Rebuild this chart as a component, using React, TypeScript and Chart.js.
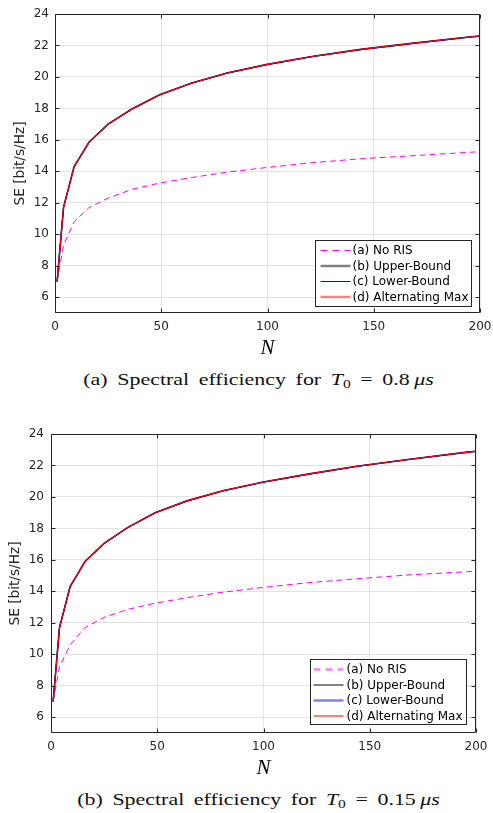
import React, { useEffect, useRef } from "react";
import { Chart, registerables } from "chart.js";

Chart.register(...registerables);

// ---------- data ----------
const N_VALUES = [1, 4, 9, 16, 25, 36, 49, 64, 81, 100, 121, 144, 169, 196, 200];
const X_TICKS = [0, 50, 100, 150, 200];
const Y_TICKS = [6, 8, 10, 12, 14, 16, 18, 20, 22, 24];
const LEGEND_LABELS = ["(a) No RIS", "(b) Upper-Bound", "(c) Lower-Bound", "(d) Alternating Max"];

// (a) T0 = 0.8 us
const A_NO_RIS = [7.0, 9.3, 10.8, 11.7, 12.3, 12.85, 13.25, 13.6, 13.95, 14.25, 14.55, 14.8, 15.0, 15.22, 15.25];
const A_UPPER = [7.0, 11.7, 14.3, 15.85, 17.0, 17.95, 18.85, 19.6, 20.25, 20.8, 21.3, 21.75, 22.15, 22.55, 22.6];
const A_LOWER = [7.0, 11.7, 14.3, 15.84, 16.99, 17.94, 18.84, 19.59, 20.24, 20.79, 21.29, 21.74, 22.14, 22.54, 22.59];
const A_ALT = [7.0, 11.7, 14.3, 15.85, 17.0, 17.95, 18.85, 19.6, 20.25, 20.8, 21.3, 21.75, 22.15, 22.55, 22.6];

// (b) T0 = 0.15 us
const B_NO_RIS = [7.0, 9.2, 10.6, 11.7, 12.35, 12.85, 13.25, 13.6, 13.95, 14.25, 14.55, 14.8, 15.05, 15.25, 15.3];
const B_UPPER = [7.0, 11.7, 14.3, 15.9, 17.05, 18.05, 19.0, 19.75, 20.4, 20.95, 21.45, 21.95, 22.4, 22.85, 22.9];
const B_LOWER = [7.0, 11.7, 14.3, 15.89, 17.04, 18.04, 18.99, 19.74, 20.39, 20.94, 21.44, 21.94, 22.39, 22.84, 22.89];
const B_ALT = [7.0, 11.7, 14.3, 15.9, 17.05, 18.05, 19.0, 19.75, 20.4, 20.95, 21.45, 21.95, 22.4, 22.85, 22.9];

const CANVAS_W = 493;
const CANVAS_H = 362;
const TICK_FONT = "DejaVu Sans";

const pts = (ys: number[]) => N_VALUES.map((n, i) => ({ x: n, y: ys[i] }));

// legend box + axes box plugins
const legendBoxPlugin = {
  id: "legendBox",
  afterDatasetsDraw(chart: any, _args: any, opts: any) {
    const { ctx, chartArea } = chart;
    const w = opts.width, h = opts.height;
    const x0 = Math.round(chartArea.right - opts.right - w) + 0.5;
    const y0 = Math.round(chartArea.bottom - opts.bottom - h) + 0.5;
    ctx.save();
    ctx.fillStyle = "#ffffff";
    ctx.fillRect(x0, y0, w, h);
    ctx.strokeStyle = "#262626";
    ctx.lineWidth = 1;
    ctx.strokeRect(x0, y0, w, h);
    ctx.font = `12px '${TICK_FONT}'`;
    ctx.textBaseline = "middle";
    ctx.textAlign = "left";
    chart.data.datasets.forEach((ds: any, i: number) => {
      const cy = y0 + opts.firstRow + i * opts.rowGap;
      ctx.save();
      ctx.strokeStyle = ds.legendColor || ds.borderColor;
      ctx.lineWidth = ds.legendWidth || ds.borderWidth;
      ctx.setLineDash(ds.legendDash || []);
      ctx.beginPath();
      ctx.moveTo(x0 + opts.lineStart, cy);
      ctx.lineTo(x0 + opts.lineEnd, cy);
      ctx.stroke();
      ctx.restore();
      ctx.fillStyle = "#000000";
      ctx.fillText(ds.label, x0 + opts.textStart, cy + 0.5);
    });
    ctx.restore();
  },
};

const axesBoxPlugin = {
  id: "axesBox",
  afterDraw(chart: any) {
    const { ctx, chartArea } = chart;
    const { left, right, top, bottom } = chartArea;
    const xs = chart.scales.x, ys = chart.scales.y;
    const L = Math.round(left) + 0.5, R = Math.round(right) - 0.5;
    const T = Math.round(top) + 0.5, B = Math.round(bottom) - 0.5;
    ctx.save();
    ctx.strokeStyle = "#262626";
    ctx.lineWidth = 1;
    ctx.beginPath();
    ctx.moveTo(L, T); ctx.lineTo(R, T); ctx.lineTo(R, B); ctx.lineTo(L, B); ctx.closePath();
    ctx.stroke();
    const tl = 4;
    ctx.beginPath();
    X_TICKS.forEach((v) => {
      const px = Math.round(xs.getPixelForValue(v)) + 0.5;
      ctx.moveTo(px, B); ctx.lineTo(px, B - tl);
      ctx.moveTo(px, T); ctx.lineTo(px, T + tl);
    });
    Y_TICKS.forEach((v) => {
      const py = Math.round(ys.getPixelForValue(v)) + 0.5;
      ctx.moveTo(L, py); ctx.lineTo(L + tl, py);
      ctx.moveTo(R, py); ctx.lineTo(R - tl, py);
    });
    ctx.stroke();
    ctx.restore();
  },
};

type Panel = {
  noRis: number[]; upper: number[]; lower: number[]; alt: number[];
  axisLeft: number; plotTop: number; plotBottom: number; plotRight: number;
  yTickPad: number; yTitlePad: number;
  legend: any; legendStyles: any[];
};

function makeConfig(p: Panel): any {
  const series = [p.noRis, p.upper, p.lower, p.alt];
  const lineStyles = [
    { borderColor: "#ff00ff", borderWidth: 1, borderDash: [6, 4], order: 3 },
    { borderColor: "#000000", borderWidth: 1.6, order: 2 },
    { borderColor: "#0000ff", borderWidth: 1, order: 1 },
    { borderColor: "#ff0000", borderWidth: 1.1, order: 0 },
  ];
  const datasets = series.map((s, i) => ({
    label: LEGEND_LABELS[i],
    data: pts(s),
    pointRadius: 0,
    tension: 0,
    fill: false,
    ...lineStyles[i],
    ...p.legendStyles[i],
  }));
  return {
    type: "line",
    data: { datasets },
    options: {
      animation: false,
      responsive: false,
      layout: { padding: { top: p.plotTop, right: CANVAS_W - p.plotRight, left: 0, bottom: 0 } },
      plugins: {
        legend: { display: false },
        tooltip: { enabled: false },
        legendBox: p.legend,
      },
      scales: {
        x: {
          type: "linear",
          min: 0,
          max: 200,
          afterBuildTicks: (s: any) => { s.ticks = X_TICKS.map((v) => ({ value: v })); },
          afterFit: (s: any) => {
            s.height = CANVAS_H - p.plotBottom;
            s.paddingLeft = 0;
            s.paddingRight = 0;
          },
          grid: { color: "#e3e3e3", drawTicks: false, lineWidth: 1 },
          border: { display: false },
          ticks: { color: "#262626", font: { family: TICK_FONT, size: 12 }, padding: 7, maxRotation: 0 },
          title: {
            display: true,
            text: "N",
            color: "#000000",
            font: { family: "Liberation Serif", size: 21, style: "italic" },
            padding: { top: 0, bottom: 1.4 },
          },
        },
        y: {
          type: "linear",
          min: 5,
          max: 24,
          afterBuildTicks: (s: any) => { s.ticks = Y_TICKS.map((v) => ({ value: v })); },
          afterFit: (s: any) => {
            s.width = p.axisLeft;
            s.paddingTop = 0;
            s.paddingBottom = 0;
          },
          grid: { color: "#e3e3e3", drawTicks: false, lineWidth: 1 },
          border: { display: false },
          ticks: { color: "#262626", font: { family: TICK_FONT, size: 12 }, padding: p.yTickPad },
          title: {
            display: true,
            text: "SE [bit/s/Hz]",
            color: "#262626",
            font: { family: TICK_FONT, size: 13.7 },
            padding: { top: p.yTitlePad, bottom: 0 },
          },
        },
      },
    },
    plugins: [legendBoxPlugin, axesBoxPlugin],
  };
}

const PANEL_A: Panel = {
  noRis: A_NO_RIS, upper: A_UPPER, lower: A_LOWER, alt: A_ALT,
  axisLeft: 55, plotTop: 14, plotBottom: 313, plotRight: 480,
  yTickPad: 6, yTitlePad: 12,
  legend: { width: 156, height: 66, right: 9, bottom: 7, firstRow: 10, rowGap: 15.5, lineStart: 5, lineEnd: 35, textStart: 37 },
  legendStyles: [
    { legendColor: "#ff00ff", legendWidth: 1, legendDash: [7, 5] },
    { legendColor: "#808080", legendWidth: 2.5 },
    { legendColor: "#0000ff", legendWidth: 1 },
    { legendColor: "#ff8080", legendWidth: 2.5 },
  ],
};

const PANEL_B: Panel = {
  noRis: B_NO_RIS, upper: B_UPPER, lower: B_LOWER, alt: B_ALT,
  axisLeft: 51, plotTop: 14, plotBottom: 313, plotRight: 476,
  yTickPad: 7, yTitlePad: 7,
  legend: { width: 156, height: 65, right: 10, bottom: 9, firstRow: 10, rowGap: 15.5, lineStart: 3, lineEnd: 33, textStart: 36 },
  legendStyles: [
    { legendColor: "#ff80ff", legendWidth: 2.5, legendDash: [7, 5] },
    { legendColor: "#000000", legendWidth: 1 },
    { legendColor: "#8080ff", legendWidth: 2.5 },
    { legendColor: "#ff0000", legendWidth: 1 },
  ],
};

function ChartPanel({ panel, top }: { panel: Panel; top: number }) {
  const ref = useRef<HTMLCanvasElement | null>(null);
  useEffect(() => {
    if (!ref.current) return;
    const chart = new Chart(ref.current, makeConfig(panel));
    return () => chart.destroy();
  }, [panel]);
  return (
    <canvas
      ref={ref}
      width={CANVAS_W}
      height={CANVAS_H}
      style={{ position: "absolute", left: 0, top, width: CANVAS_W, height: CANVAS_H }}
    />
  );
}

const captionStyle = (top: number): React.CSSProperties => ({
  position: "absolute",
  left: 12,
  top,
  width: CANVAS_W,
  textAlign: "center",
  fontFamily: "'Liberation Serif', serif",
  fontSize: 17,
  lineHeight: "20px",
  wordSpacing: 3.2,
  color: "#111",
  whiteSpace: "nowrap",
  transform: "scaleX(1.29)",
  transformOrigin: "center",
});

const subStyle: React.CSSProperties = { fontSize: 12, verticalAlign: -3, lineHeight: 0 };

export default function App() {
  useEffect(() => {
    document.body.style.margin = "0";
  }, []);
  return (
    <div style={{ position: "relative", width: CANVAS_W, height: 813, background: "#fff", overflow: "hidden" }}>
      <ChartPanel panel={PANEL_A} top={0} />
      <div style={captionStyle(370)}>
        (a) Spectral efficiency for <i>T</i><sub style={subStyle}>0</sub> = 0.8&thinsp;<i>μs</i>
      </div>
      <ChartPanel panel={PANEL_B} top={420} />
      <div style={captionStyle(790)}>
        (b) Spectral efficiency for <i>T</i><sub style={subStyle}>0</sub> = 0.15&thinsp;<i>μs</i>
      </div>
    </div>
  );
}
